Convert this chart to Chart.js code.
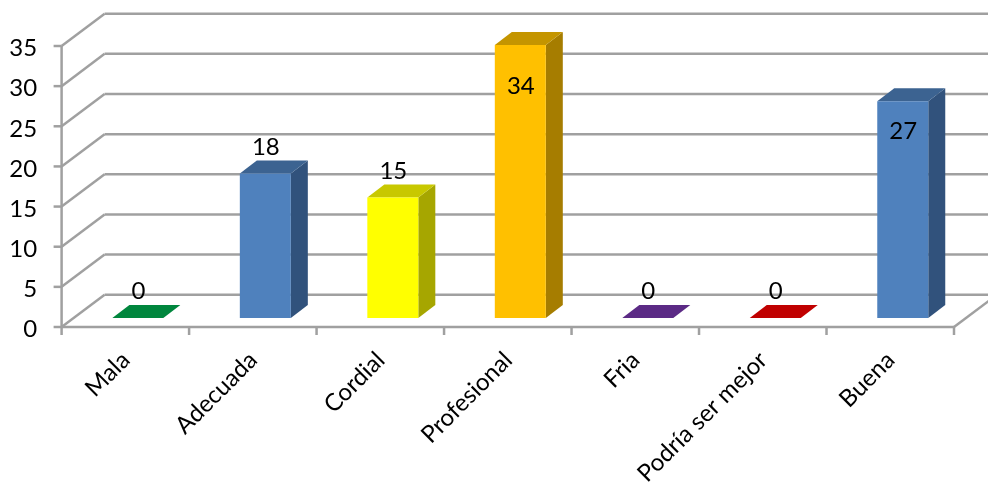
<!DOCTYPE html>
<html lang="es">
<head>
<meta charset="UTF-8">
<title>Grafico</title>
<script src="https://cdn.jsdelivr.net/npm/chart.js@4"></script>
<style>
  html, body { margin: 0; padding: 0; background: #fff; }
  canvas { display: block; }
</style>
</head>
<body>
<canvas id="grafico" width="988" height="487"></canvas>
<script>
  const categorias = ['Mala', 'Adecuada', 'Cordial', 'Profesional', 'Fria', 'Podría ser mejor', 'Buena'];
  const valores = [0, 18, 15, 34, 0, 0, 27];
  const ticksY = [0, 5, 10, 15, 20, 25, 30, 35];

  const colorFrente = ['#00863D', '#4F81BD', '#FFFF00', '#FFC000', '#5B2A85', '#C00000', '#4F81BD'];
  const colorLado = ['#006B31', '#31527C', '#A6A600', '#A67D00', '#47206A', '#990000', '#31527C'];
  const colorTecho = ['#00863D', '#3C6391', '#C8C800', '#C49500', '#5B2A85', '#C00000', '#3C6391'];
  // desplazamiento vertical de cada etiqueta respecto a la parte alta de la barra
  const etiquetaDy = [-28, -27, -27, 40, -28, -28, 29];

  const colorLinea = '#a0a0a0';
  const fuente = 'Lato, sans-serif';

  function linea(ctx, x1, y1, x2, y2) {
    ctx.beginPath();
    ctx.moveTo(x1, y1);
    ctx.lineTo(x2, y2);
    ctx.stroke();
  }

  function poligono(ctx, puntos, color) {
    ctx.fillStyle = color;
    ctx.beginPath();
    puntos.forEach((p, i) => i ? ctx.lineTo(p[0], p[1]) : ctx.moveTo(p[0], p[1]));
    ctx.closePath();
    ctx.fill();
  }

  const efecto3d = {
    id: 'efecto3d',
    beforeDatasetsDraw(chart) {
      const ctx = chart.ctx;
      const x = chart.scales.x;
      const y = chart.scales.y;
      const frenteX = x.left - 12.5;
      const fondoX = x.left + 30.5;
      const frenteY = 9;
      const fondoY = -23.3;
      const base = y.getPixelForValue(0);

      ctx.save();
      ctx.strokeStyle = colorLinea;
      ctx.lineWidth = 2.5;

      // paredes y marcas del eje vertical
      ticksY.forEach(v => {
        const p = y.getPixelForValue(v);
        linea(ctx, fondoX, p + fondoY, 1000, p + fondoY);
        linea(ctx, frenteX, p + frenteY, fondoX, p + fondoY);
        linea(ctx, frenteX - 8, p + frenteY, frenteX, p + frenteY);
      });
      linea(ctx, frenteX, y.getPixelForValue(35) + frenteY, frenteX, base + frenteY);

      // suelo y marcas de categorias
      const anchoCat = x.width / categorias.length;
      const frenteFin = frenteX + anchoCat * categorias.length;
      linea(ctx, frenteX, base + frenteY, frenteFin, base + frenteY);
      linea(ctx, frenteFin, base + frenteY, frenteFin + 43, base + fondoY);
      for (let i = 0; i <= categorias.length; i++) {
        const t = frenteX + anchoCat * i;
        linea(ctx, t, base + frenteY, t, base + frenteY + 8);
      }
      ctx.restore();

      // laterales y techos de las barras
      const dx = 17;
      const dy = 13;
      chart.getDatasetMeta(0).data.forEach((barra, i) => {
        const izq = barra.x - barra.width / 2;
        const der = barra.x + barra.width / 2;
        if (valores[i] > 0) {
          poligono(ctx, [[der, barra.y], [der + dx, barra.y - dy], [der + dx, barra.base - dy], [der, barra.base]], colorLado[i]);
        }
        poligono(ctx, [[izq, barra.y], [izq + dx, barra.y - dy], [der + dx, barra.y - dy], [der, barra.y]], colorTecho[i]);
      });
    },
    afterDatasetsDraw(chart) {
      const ctx = chart.ctx;
      ctx.save();
      ctx.fillStyle = '#000';
      ctx.font = '24px ' + fuente;
      ctx.textAlign = 'center';
      ctx.textBaseline = 'middle';
      chart.getDatasetMeta(0).data.forEach((barra, i) => {
        ctx.fillText(String(valores[i]), barra.x + 0.5, barra.y + etiquetaDy[i] + 1);
      });
      ctx.restore();
    }
  };

  new Chart(document.getElementById('grafico'), {
    type: 'bar',
    data: {
      labels: categorias,
      datasets: [{
        data: valores,
        backgroundColor: colorFrente,
        borderWidth: 0,
        barPercentage: 0.4,
        categoryPercentage: 1
      }]
    },
    plugins: [efecto3d],
    options: {
      responsive: false,
      animation: false,
      layout: { padding: { top: 37, right: 21.5, left: 0, bottom: 0 } },
      plugins: { legend: { display: false }, tooltip: { enabled: false } },
      scales: {
        x: {
          afterFit: s => { s.height = 169; s.paddingLeft = 0; s.paddingRight = 0; },
          grid: { display: false },
          border: { display: false },
          ticks: {
            color: '#000',
            font: { family: fuente, size: 24 },
            minRotation: 45,
            maxRotation: 45,
            padding: 20,
            labelOffset: -12
          }
        },
        y: {
          min: 0,
          max: 35,
          afterFit: s => { s.width = 74.1; s.paddingTop = 0; s.paddingBottom = 0; },
          grid: { display: false },
          border: { display: false },
          ticks: {
            stepSize: 5,
            color: '#000',
            font: { family: fuente, size: 24 },
            padding: 29,
            labelOffset: 11.5
          }
        }
      }
    }
  });
</script>
</body>
</html>
